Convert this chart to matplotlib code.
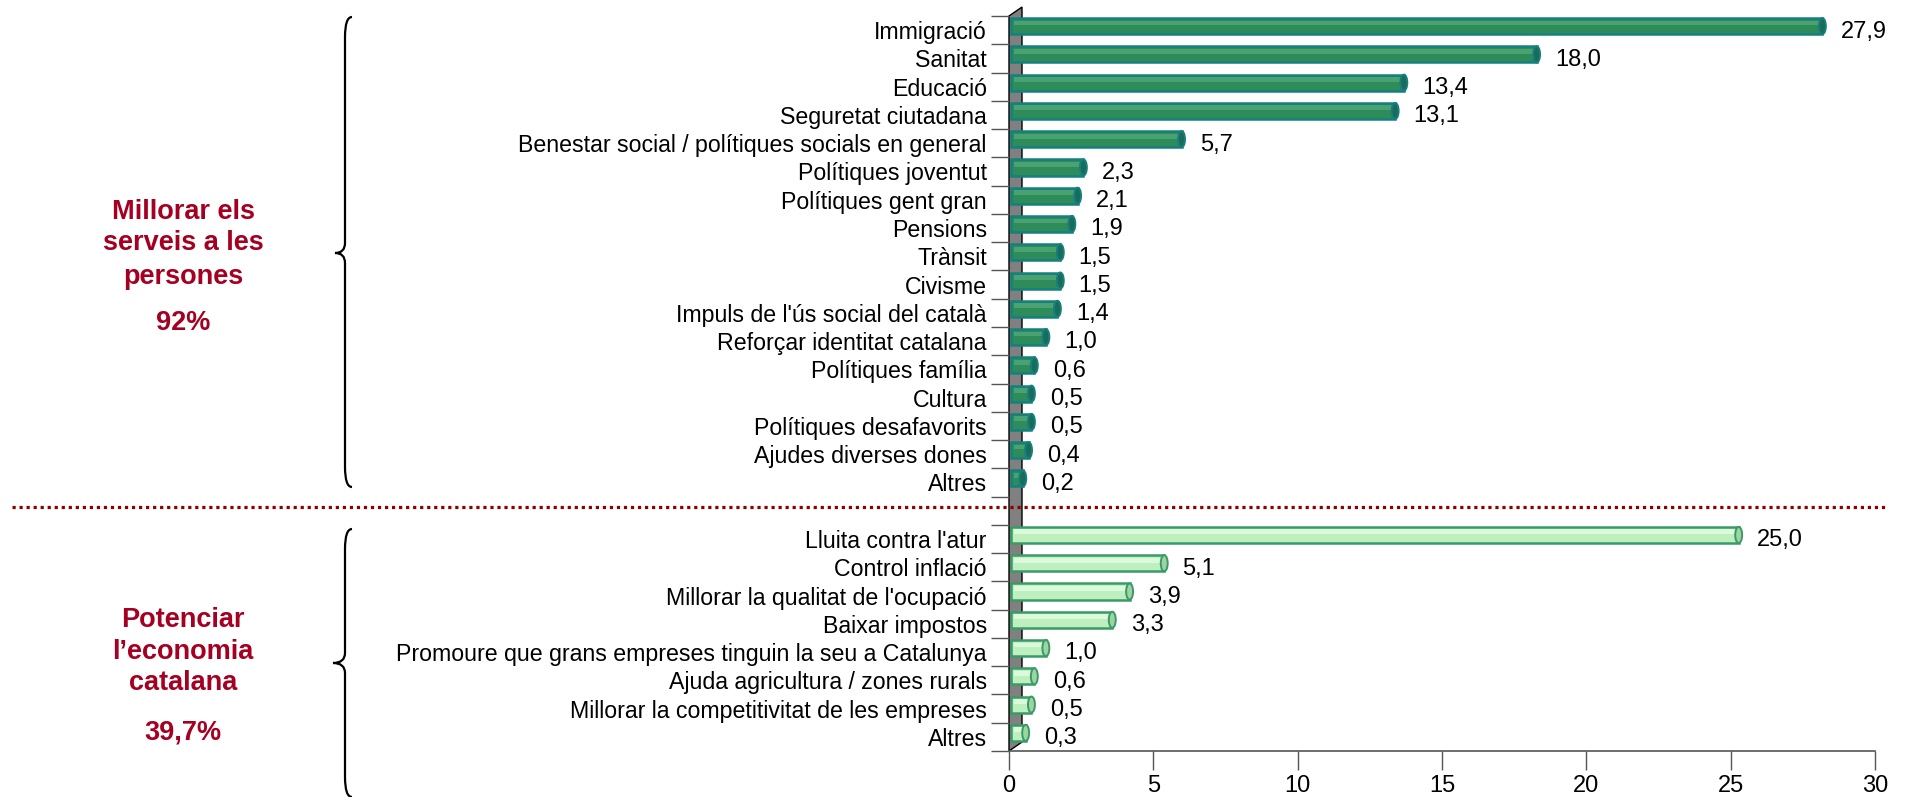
import numpy as np
import matplotlib
matplotlib.use("Agg")
import matplotlib.pyplot as plt
from matplotlib.patches import Polygon, Ellipse, PathPatch
from matplotlib.path import Path
from matplotlib.lines import Line2D
from matplotlib.transforms import offset_copy

# Data
serveis_labels = ["Immigració", "Sanitat", "Educació", "Seguretat ciutadana",
                  "Benestar social / polítiques socials en general",
                  "Polítiques joventut", "Polítiques gent gran", "Pensions",
                  "Trànsit", "Civisme", "Impuls de l'ús social del català",
                  "Reforçar identitat catalana", "Polítiques família", "Cultura",
                  "Polítiques desafavorits", "Ajudes diverses dones", "Altres"]
serveis_values = [27.9, 18.0, 13.4, 13.1, 5.7, 2.3, 2.1, 1.9, 1.5, 1.5, 1.4,
                  1.0, 0.6, 0.5, 0.5, 0.4, 0.2]

economia_labels = ["Lluita contra l'atur", "Control inflació",
                   "Millorar la qualitat de l'ocupació", "Baixar impostos",
                   "Promoure que grans empreses tinguin la seu a Catalunya",
                   "Ajuda agricultura / zones rurals",
                   "Millorar la competitivitat de les empreses", "Altres"]
economia_values = [25.0, 5.1, 3.9, 3.3, 1.0, 0.6, 0.5, 0.3]

group_titles = [["Millorar els", "serveis a les", "persones"],
                ["Potenciar", "l\u2019economia", "catalana"]]
group_pcts = ["92%", "39,7%"]
x_ticks = [0, 5, 10, 15, 20, 25, 30]

W, H = 1909, 797
plt.rcParams['font.family'] = ['Liberation Sans', 'DejaVu Sans']

fig = plt.figure(figsize=(W / 100, H / 100), dpi=100)
ax = fig.add_axes([1009 / W, 1 - 751 / H, 866 / W, 735 / H])

n_top = len(serveis_values)
y_top = np.arange(n_top)
y_bot = np.arange(len(economia_values)) + n_top + 1
n_rows = n_top + 1 + len(economia_values)

ax.set_xlim(0, 30)
ax.set_ylim(n_rows - 0.5, -0.5)

# 3D wall on the left
wall = Polygon([(0, 0), (0, 1), (0.015, 1.0122), (0.015, 0.0122)],
               closed=True, transform=ax.transAxes, facecolor='#808080',
               edgecolor='black', lw=1, clip_on=False, zorder=1)
ax.add_patch(wall)

bar_tr = offset_copy(ax.transData, fig=fig, x=8, y=4, units='dots')
bar_h = 0.57


def draw_bars(ys, vals, face, light, edge, cap):
    vals = np.array(vals)
    ax.barh(ys, vals + 0.2, left=-0.2, height=bar_h, color=face,
            edgecolor=edge, linewidth=1.8, transform=bar_tr, zorder=3)
    ax.barh(ys - 0.11, vals + 0.05, left=-0.12, height=0.17, color=light,
            linewidth=0, transform=bar_tr, zorder=4)
    for yy, v in zip(ys, vals):
        ax.add_patch(Ellipse((v, yy), width=0.24, height=bar_h, facecolor=cap,
                             edgecolor=edge, lw=1.4, transform=bar_tr, zorder=5))
        ax.annotate(f"{v:.1f}".replace('.', ','), xy=(v, yy), xytext=(19, -1),
                    textcoords='offset points', ha='left', va='center',
                    fontsize=17, color='black', zorder=6)


draw_bars(y_top, serveis_values, '#2e8b5a', '#4aa273', '#14807f', '#1c6a58')
draw_bars(y_bot, economia_values, '#bdefbf', '#dbf9db', '#3a9a68', '#9fd4a2')

# axes styling
ticks_y = list(y_top) + list(y_bot)
ax.set_yticks(ticks_y)
ax.set_yticklabels(serveis_labels + economia_labels, fontsize=16.7)
ax.set_yticks(np.arange(-0.5, n_rows, 1), minor=True)
ax.tick_params(axis='y', which='major', length=0, pad=16)
ax.tick_params(axis='y', which='minor', length=13, width=1, color='#555555')
ax.set_xticks(x_ticks)
ax.set_xticklabels([str(t) for t in x_ticks], fontsize=17)
ax.tick_params(axis='x', length=14, width=1, color='#555555', pad=3)
for s in ['top', 'right', 'left']:
    ax.spines[s].set_visible(False)
ax.spines['bottom'].set_color('#555555')
ax.spines['bottom'].set_linewidth(1.2)
ax.patch.set_alpha(0)

# dotted separator
fig.add_artist(Line2D([12 / W, 1887 / W], [1 - 507 / H, 1 - 507 / H],
                      color='#8b0000', lw=2.3, linestyle=(0, (1, 1.2)),
                      dash_capstyle='butt'))


def brace(x, y0, y1, ym, tip=7, point=10):
    pts = [(x + tip, y0), (x, y0), (x, y0 + 20),
           (x, ym - 10), (x, ym), (x - point, ym),
           (x, ym), (x, ym + 10),
           (x, y1 - 20), (x, y1), (x + tip, y1)]
    codes = [Path.MOVETO, Path.CURVE3, Path.CURVE3,
             Path.LINETO, Path.CURVE3, Path.CURVE3,
             Path.CURVE3, Path.CURVE3,
             Path.LINETO, Path.CURVE3, Path.CURVE3]
    verts = [(px / W, 1 - py / H) for px, py in pts]
    fig.add_artist(PathPatch(Path(verts, codes), transform=fig.transFigure,
                             fill=False, edgecolor='black', lw=1.6))


brace(345, 17, 487, 253)
brace(345, 529, 797, 663, point=12)

red = '#a50021'
for lines, pct, ys, yp in [(group_titles[0], group_pcts[0], [212, 243, 277], 323),
                           (group_titles[1], group_pcts[1], [620, 652, 683], 732)]:
    for t, yy in zip(lines, ys):
        fig.text(183 / W, 1 - yy / H, t, ha='center', va='center',
                 fontsize=19.5, fontweight='bold', color=red)
    fig.text(183 / W, 1 - yp / H, pct, ha='center', va='center',
             fontsize=19.5, fontweight='bold', color=red)

fig.savefig('out.png', dpi=100)
